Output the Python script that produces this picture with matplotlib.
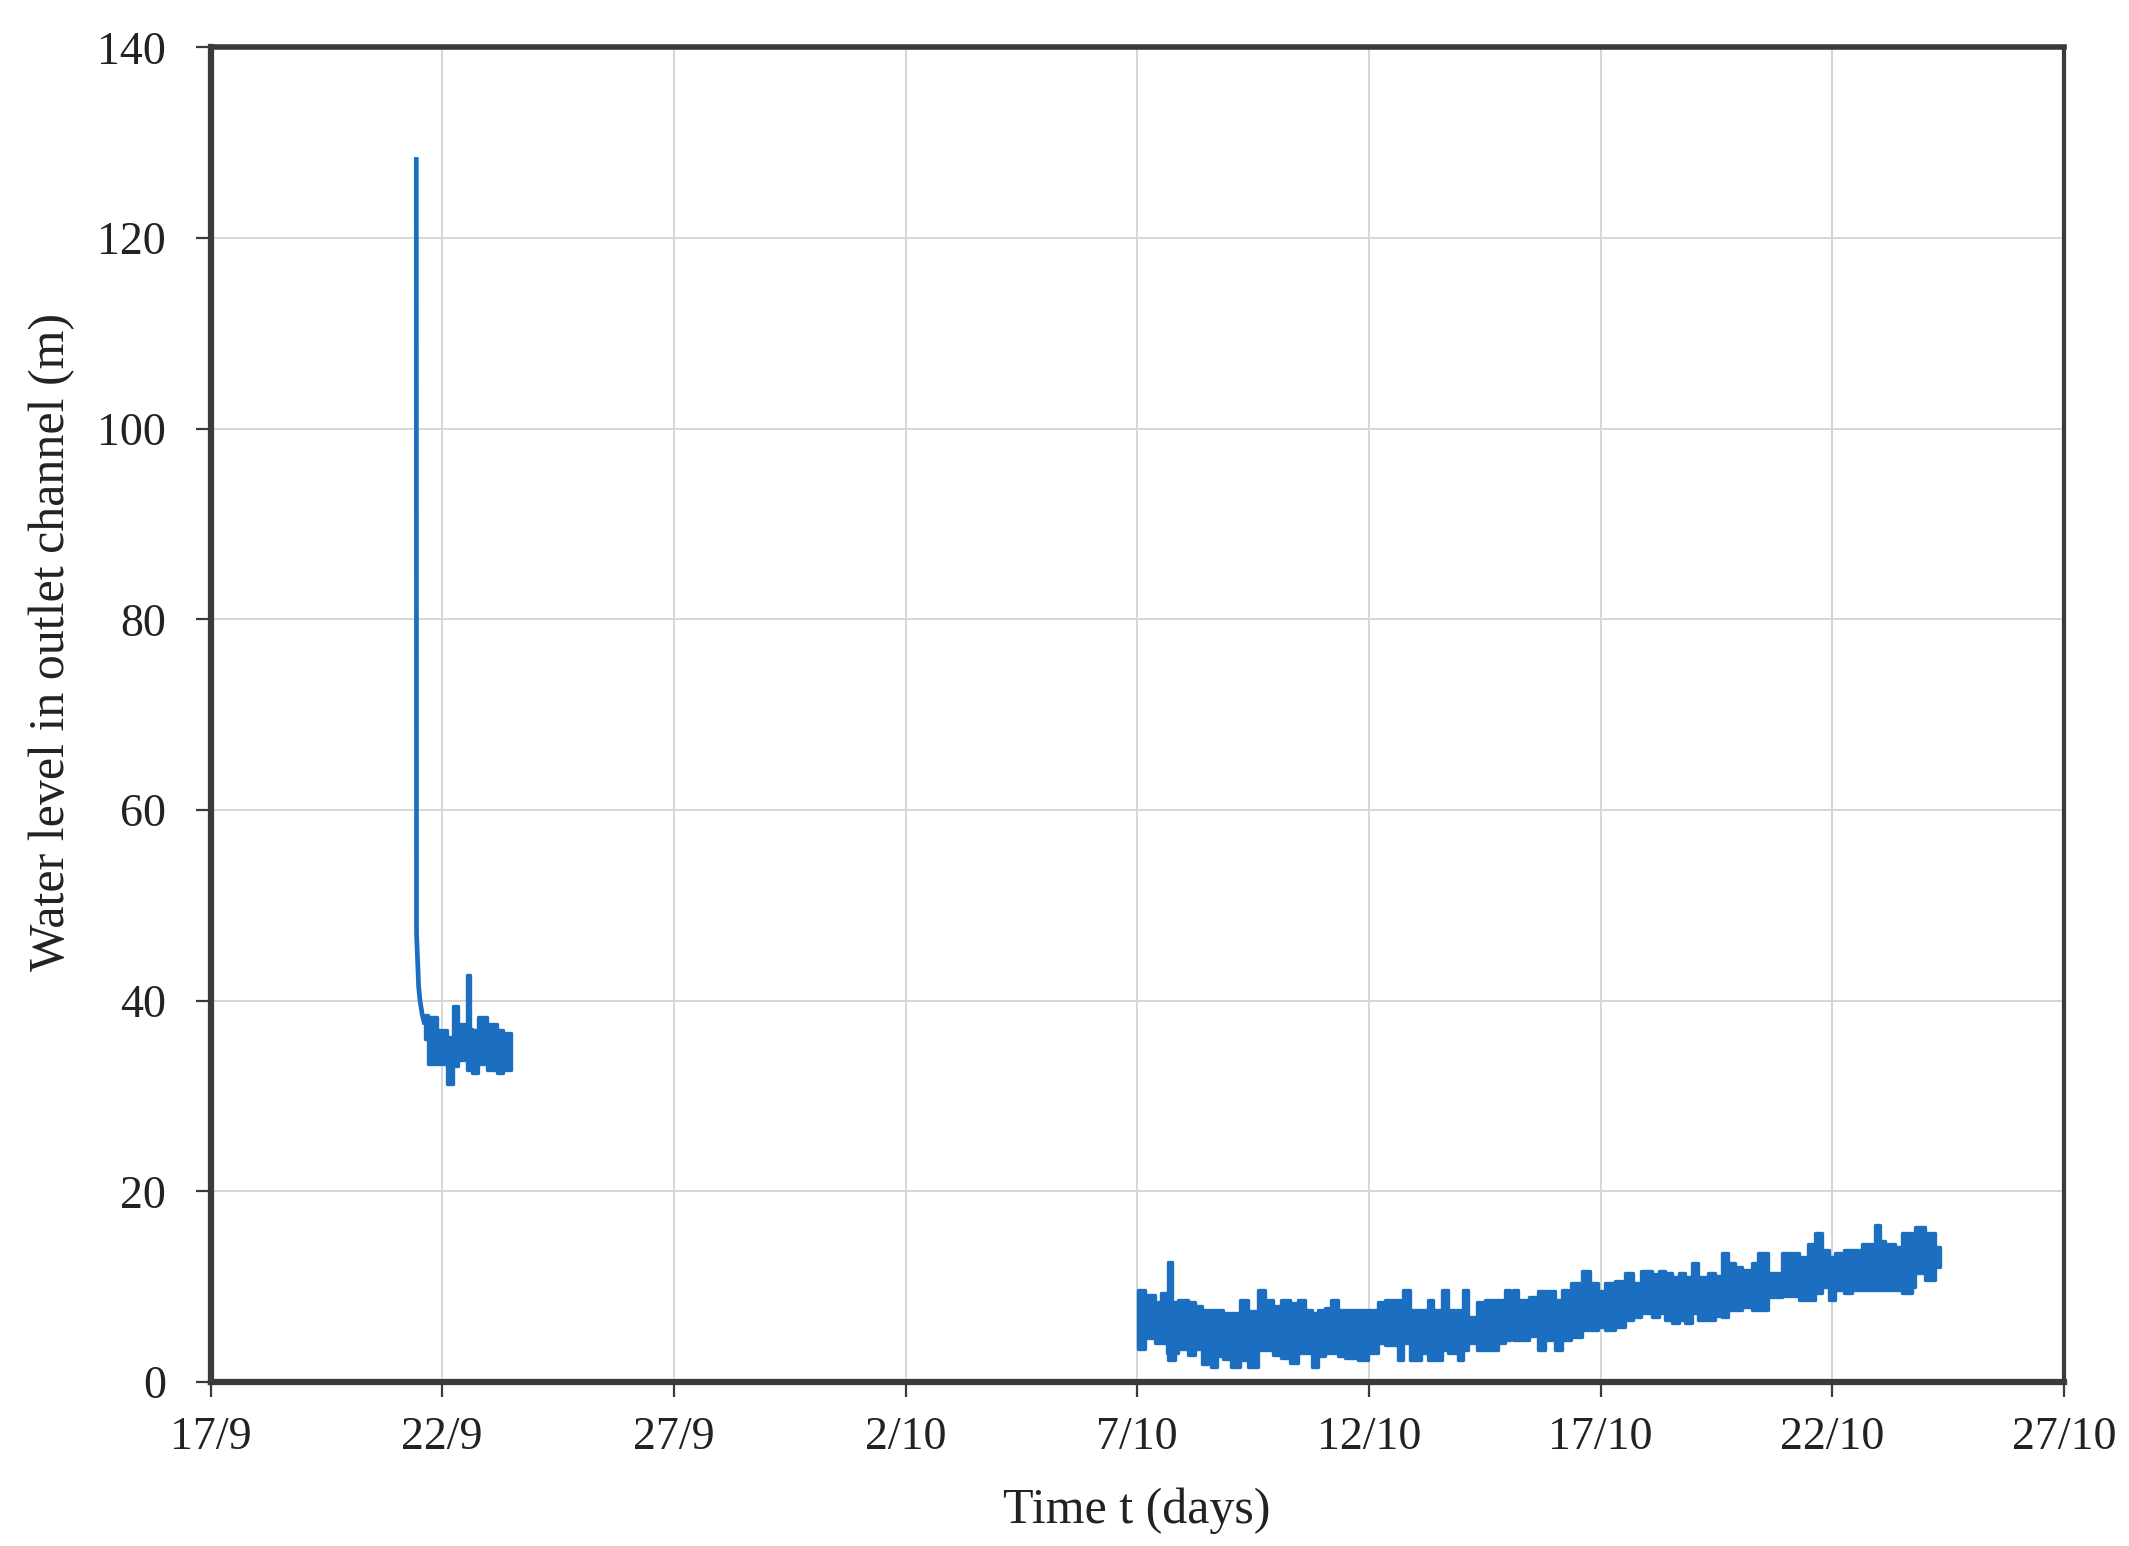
import matplotlib
matplotlib.use("Agg")
import matplotlib.pyplot as plt

# ---------------- data (days since 17/9) ----------------
x_ticks = [0, 5, 10, 15, 20, 25, 30, 35, 40]
x_tick_labels = ['17/9', '22/9', '27/9', '2/10', '7/10', '12/10', '17/10', '22/10', '27/10']
y_ticks = [0, 20, 40, 60, 80, 100, 120, 140]

# first record: initial peak and decay
s1_line_x = [4.44, 4.445, 4.47, 4.49, 4.52, 4.57, 4.62]
s1_line_y = [128.5, 47.0, 44.0, 41.5, 40.0, 38.5, 37.5]

# first record: noisy part (min / max envelope)
s1_band_x = [4.62, 4.70, 4.88, 5.10, 5.24, 5.35, 5.53, 5.60, 5.64, 5.78, 5.96, 6.18, 6.32, 6.48]
s1_band_lo = [36.0, 33.4, 33.4, 31.3, 33.1, 33.8, 32.7, 32.7, 32.4, 33.4, 32.7, 32.4, 32.7, 32.7]
s1_band_hi = [38.5, 38.3, 36.9, 36.2, 39.4, 37.6, 42.7, 37.0, 36.9, 38.3, 37.6, 36.9, 36.6, 36.6]

# second record (min / max envelope)
s2_x = [20.02, 20.16, 20.38, 20.52, 20.63, 20.67, 20.75, 20.81, 20.88, 21.10,
        21.25, 21.39, 21.53, 21.60, 21.71, 21.85, 22.03, 22.21, 22.39, 22.61,
        22.75, 22.93, 23.11, 23.30, 23.47, 23.62, 23.76, 23.90, 24.05, 24.19,
        24.34, 24.48, 24.77, 24.98, 25.20, 25.34, 25.63, 25.74, 25.88, 26.13,
        26.28, 26.39, 26.57, 26.71, 26.93, 27.03, 27.14, 27.32, 27.50, 27.79,
        27.93, 28.04, 28.11, 28.22, 28.45, 28.65, 28.80, 29.01, 29.16, 29.30,
        29.37, 29.59, 29.77, 29.95, 30.09, 30.31, 30.52, 30.70, 30.88, 31.10,
        31.25, 31.39, 31.53, 31.68, 31.82, 31.96, 32.11, 32.32, 32.47, 32.61,
        32.75, 32.90, 33.04, 33.26, 33.40, 33.62, 33.91, 34.27, 34.48, 34.63,
        34.77, 34.92, 35.06, 35.25, 35.42, 35.63, 35.92, 36.02, 36.14, 36.35,
        36.50, 36.71, 36.79, 37.00, 37.22, 37.33]
s2_lo = [3.5, 4.6, 4.1, 4.1, 3.0, 2.3, 2.3, 3.0, 3.5, 2.8,
         3.5, 1.9, 2.7, 1.6, 2.7, 2.4, 1.6, 2.3, 1.6, 3.4,
         3.4, 2.8, 2.5, 2.0, 3.0, 3.0, 1.6, 2.7, 3.0, 3.0,
         2.7, 2.5, 2.3, 3.0, 4.1, 3.9, 2.3, 4.1, 2.3, 3.0,
         2.3, 2.3, 3.4, 3.0, 2.3, 3.4, 4.1, 3.4, 3.4, 4.1,
         4.4, 5.1, 4.4, 4.4, 4.8, 3.4, 4.4, 3.4, 4.4, 4.4,
         4.75, 5.45, 5.45, 5.8, 5.45, 5.8, 6.5, 6.85, 7.2, 6.8,
         7.2, 6.5, 6.15, 6.5, 6.2, 7.2, 6.5, 6.5, 6.9, 6.85,
         7.55, 7.55, 7.9, 7.55, 7.55, 8.96, 9.0, 8.6, 8.6, 9.3,
         10.0, 8.6, 9.65, 9.3, 9.65, 9.65, 9.65, 9.65, 9.65, 9.65,
         9.3, 10.0, 11.4, 10.7, 12.1, 12.1]
s2_hi = [9.65, 9.1, 8.4, 9.3, 8.4, 12.6, 8.4, 8.4, 8.6, 8.4,
         8.0, 7.5, 7.5, 7.5, 7.5, 7.2, 7.2, 8.6, 7.4, 9.65,
         8.6, 8.0, 8.6, 8.3, 8.6, 7.5, 7.2, 7.5, 7.8, 8.6,
         7.5, 7.55, 7.55, 7.55, 8.4, 8.6, 8.6, 9.65, 7.55, 7.55,
         8.6, 7.55, 9.65, 7.55, 7.55, 9.65, 6.85, 8.4, 8.6, 8.6,
         9.65, 7.55, 9.65, 8.6, 8.9, 9.5, 9.5, 8.6, 9.65, 9.3,
         10.35, 11.6, 10.35, 9.5, 10.35, 10.6, 11.4, 10.35, 11.6, 11.3,
         11.6, 11.4, 11.05, 11.4, 11.0, 12.45, 11.05, 11.4, 11.1, 13.5,
         12.45, 12.1, 11.75, 12.45, 13.5, 11.4, 13.5, 13.15, 14.5, 15.6,
         13.85, 13.15, 13.5, 13.8, 13.85, 14.5, 16.5, 14.8, 14.5, 14.2,
         15.6, 12.6, 16.3, 15.6, 14.2, 14.2]

# ---------------- style ----------------
blue = '#1c6fc0'
spine_col = '#3a3a3a'
grid_col = '#d6d6d6'
font = ['Liberation Serif', 'DejaVu Serif']

plt.rcParams['font.family'] = font

fig = plt.figure(figsize=(21.29, 15.46), dpi=100)
fig.patch.set_facecolor('white')
ax = fig.add_axes([0.0989, 0.1061, 0.8706, 0.8632])

ax.plot(s1_line_x, s1_line_y, color=blue, lw=3.4, solid_capstyle='butt',
        solid_joinstyle='round', zorder=3)
ax.fill_between(s1_band_x, s1_band_lo, s1_band_hi, step='post', color=blue,
                lw=2.4, edgecolor=blue, joinstyle='round', zorder=3)
ax.fill_between(s2_x, s2_lo, s2_hi, step='post', color=blue,
                lw=2.4, edgecolor=blue, joinstyle='round', zorder=3)

ax.set_xlim(0, 40)
ax.set_ylim(0, 140)
ax.set_xticks(x_ticks)
ax.set_xticklabels(x_tick_labels)
ax.set_yticks(y_ticks)

ax.grid(True, color=grid_col, lw=1.4, zorder=0)
ax.set_axisbelow(True)

for side, lw in [('left', 4.5), ('bottom', 4.5), ('top', 4.0), ('right', 3.0)]:
    ax.spines[side].set_color(spine_col)
    ax.spines[side].set_linewidth(lw)

ax.tick_params(axis='both', which='major', direction='out', length=11, width=1.6,
               color=spine_col, labelsize=33, labelcolor='#222222')
ax.tick_params(axis='y', pad=21)
ax.tick_params(axis='x', pad=14)

ax.set_xlabel('Time t (days)', fontsize=36, color='#222222', va='center')
ax.xaxis.set_label_coords(0.4999, -0.0967)
ax.set_ylabel('Water level in outlet channel (m)', fontsize=36, color='#222222', va='center')
ax.yaxis.set_label_coords(-0.0855, 0.5545)

fig.savefig('out.png', dpi=100, facecolor='white')
